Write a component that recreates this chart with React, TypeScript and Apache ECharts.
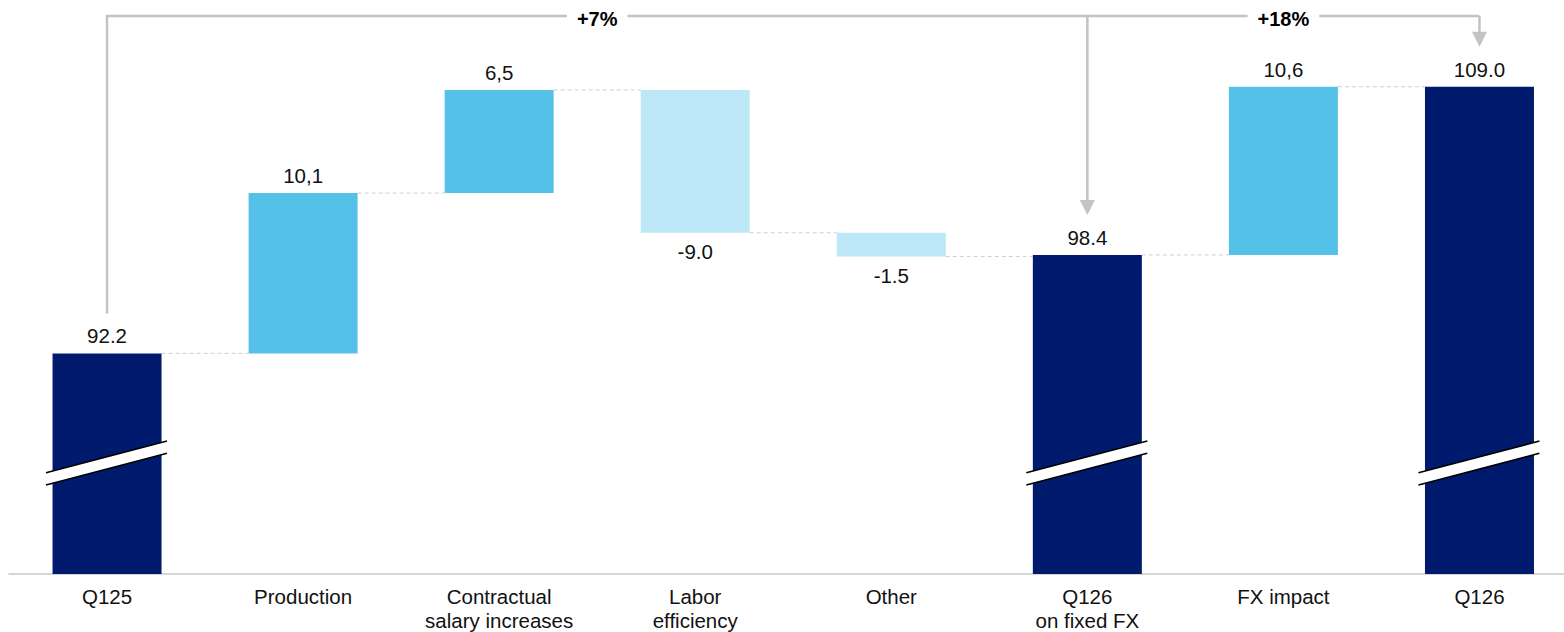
import React, { useEffect, useRef } from "react";
import * as echarts from "echarts";

// ---- data ----
const categories = [
  "Q125",
  "Production",
  "Contractual\nsalary increases",
  "Labor\nefficiency",
  "Other",
  "Q126\non fixed FX",
  "FX impact",
  "Q126",
];
const totals: (number | null)[] = [92.2, null, null, null, null, 98.4, null, 109.0];
const deltas: (number | null)[] = [null, 10.1, 6.5, -9.0, -1.5, null, 10.6, null];
const totalLabels = ["92.2", "", "", "", "", "98.4", "", "109.0"];
const deltaLabels = ["", "10,1", "6,5", "-9.0", "-1.5", "", "10,6", ""];
const bracketFrom = 0;
const bracketTargets = [5, 7];
const bracketLabels = ["+7%", "+18%"];
const breakValue = 85.3;
const axisMin = 78.3;
const axisMax = 113.52;

// ---- styles ----
const NAVY = "#001B6E";
const BLUE = "#55C1E8";
const LIGHT = "#BDE6F6";
const GRAY = "#C3C3C3";
const FONT = "'Liberation Sans', Arial, sans-serif";
const BAR_W = 109;

// derived waterfall geometry (from data)
const bases: (number | string)[] = [];
const heights: any[] = [];
const levels: number[] = [];
(() => {
  let level = 0;
  for (let i = 0; i < categories.length; i++) {
    const t = totals[i];
    const d = deltas[i];
    if (t != null) {
      level = t;
      bases.push("-");
      heights.push("-");
    } else if (d != null) {
      const start = level;
      const end = level + d;
      bases.push(Math.min(start, end));
      heights.push({
        value: Math.abs(d),
        itemStyle: { color: d < 0 ? LIGHT : BLUE },
        label: { position: d < 0 ? "bottom" : "top", distance: d < 0 ? 8 : 7 },
      });
      level = end;
    }
    levels.push(level);
  }
})();

export default function App() {
  const ref = useRef<HTMLDivElement>(null);
  useEffect(() => {
    if (!ref.current) return;
    const chart = echarts.init(ref.current, null, { renderer: "svg" });
    const labelStyle = { fontSize: 20.5, color: "#111", fontFamily: FONT };
    chart.setOption({
      animation: false,
      backgroundColor: "#fff",
      grid: { left: 9, width: 1568.5, top: 15, height: 560, containLabel: false },
      xAxis: {
        type: "category",
        data: categories,
        axisTick: { show: false },
        axisLine: { lineStyle: { color: "#C8C8C8", width: 1.5 } },
        axisLabel: {
          interval: 0,
          margin: 10,
          lineHeight: 24,
          fontSize: 20.5,
          color: "#111",
          fontFamily: FONT,
        },
      },
      yAxis: {
        type: "value",
        min: axisMin,
        max: axisMax,
        show: false,
        splitLine: { show: false },
      },
      series: [
        {
          type: "bar",
          stack: "w",
          barWidth: BAR_W,
          barGap: "-100%",
          data: bases,
          itemStyle: { color: "transparent" },
          silent: true,
        },
        {
          type: "bar",
          stack: "w",
          barWidth: BAR_W,
          barGap: "-100%",
          data: heights,
          label: {
            show: true,
            ...labelStyle,
            formatter: (p: any) => deltaLabels[p.dataIndex],
          },
          z: 3,
        },
        {
          type: "bar",
          barWidth: BAR_W,
          barGap: "-100%",
          data: totals.map((v) => (v == null ? "-" : v)),
          itemStyle: { color: NAVY },
          label: {
            show: true,
            position: "top",
            distance: 7,
            ...labelStyle,
            formatter: (p: any) => totalLabels[p.dataIndex],
          },
          z: 3,
        },
        {
          // dashed connectors
          type: "custom",
          z: 1,
          silent: true,
          data: levels.slice(0, levels.length - 1).map((l, i) => [i, l]),
          encode: { x: 0, y: 1 },
          renderItem: (params: any, api: any) => {
            const i = api.value(0);
            const l = api.value(1);
            const a = api.coord([i, l]);
            const b = api.coord([i + 1, l]);
            return {
              type: "line",
              shape: { x1: a[0] + BAR_W / 2, y1: a[1], x2: b[0] - BAR_W / 2, y2: b[1] },
              style: { stroke: "#CFCFCF", lineWidth: 1, lineDash: [4, 3] },
            };
          },
        },
        {
          // axis break marks on total bars
          type: "custom",
          z: 5,
          silent: true,
          data: totals
            .map((t, i) => (t == null ? null : [i, breakValue]))
            .filter((d) => d != null),
          encode: { x: 0, y: 1 },
          renderItem: (params: any, api: any) => {
            const c = api.coord([api.value(0), api.value(1)]);
            const cx = c[0];
            const cy = c[1];
            const s = -0.262;
            const xl = cx - 61;
            const xr = cx + 60;
            const half = 6.1;
            const yAt = (x: number, off: number) => cy + off + s * (x - cx);
            return {
              type: "group",
              children: [
                {
                  type: "polygon",
                  shape: {
                    points: [
                      [xl, yAt(xl, -half)],
                      [xr, yAt(xr, -half)],
                      [xr, yAt(xr, half)],
                      [xl, yAt(xl, half)],
                    ],
                  },
                  style: { fill: "#fff" },
                },
                {
                  type: "line",
                  shape: { x1: xl, y1: yAt(xl, -half), x2: xr, y2: yAt(xr, -half) },
                  style: { stroke: "#000", lineWidth: 1.6 },
                },
                {
                  type: "line",
                  shape: { x1: xl, y1: yAt(xl, half), x2: xr, y2: yAt(xr, half) },
                  style: { stroke: "#000", lineWidth: 1.6 },
                },
              ],
            };
          },
        },
        {
          // growth bracket
          type: "custom",
          z: 6,
          silent: true,
          data: [[bracketFrom, axisMax]],
          encode: { x: 0, y: 1 },
          renderItem: (params: any, api: any) => {
            const topY = api.coord([bracketFrom, axisMax])[1] + 1;
            const x0 = api.coord([bracketFrom, axisMax])[0];
            const startY = api.coord([bracketFrom, totals[bracketFrom] as number])[1] - 40;
            const ls = { stroke: GRAY, lineWidth: 2.5, fill: null };
            const children: any[] = [];
            const lastT = bracketTargets[bracketTargets.length - 1];
            const xLast = api.coord([lastT, axisMax])[0];
            children.push({
              type: "polyline",
              shape: { points: [[x0, startY], [x0, topY], [xLast, topY]] },
              style: ls,
            });
            let prevX = x0;
            bracketTargets.forEach((t, k) => {
              const xt = api.coord([t, axisMax])[0];
              const tipY = api.coord([t, totals[t] as number])[1] - 40;
              children.push({
                type: "line",
                shape: { x1: xt, y1: topY, x2: xt, y2: tipY - 14 },
                style: ls,
              });
              children.push({
                type: "polygon",
                shape: { points: [[xt - 7.5, tipY - 15], [xt + 7.5, tipY - 15], [xt, tipY]] },
                style: { fill: GRAY },
              });
              children.push({
                type: "text",
                style: {
                  text: bracketLabels[k],
                  x: (prevX + xt) / 2,
                  y: topY + 3,
                  align: "center",
                  verticalAlign: "middle",
                  fontSize: 20,
                  fontWeight: "bold",
                  fontFamily: FONT,
                  fill: "#000",
                  backgroundColor: "#fff",
                  padding: [2, 10],
                },
              });
              prevX = xt;
            });
            return { type: "group", children };
          },
        },
      ],
    });
    return () => chart.dispose();
  }, []);
  return (
    <div
      style={{
        position: "absolute",
        left: 0,
        top: 0,
        width: 1564,
        height: 632,
        overflow: "hidden",
      }}
    >
      <div ref={ref} style={{ width: 1600, height: 632 }} />
    </div>
  );
}
